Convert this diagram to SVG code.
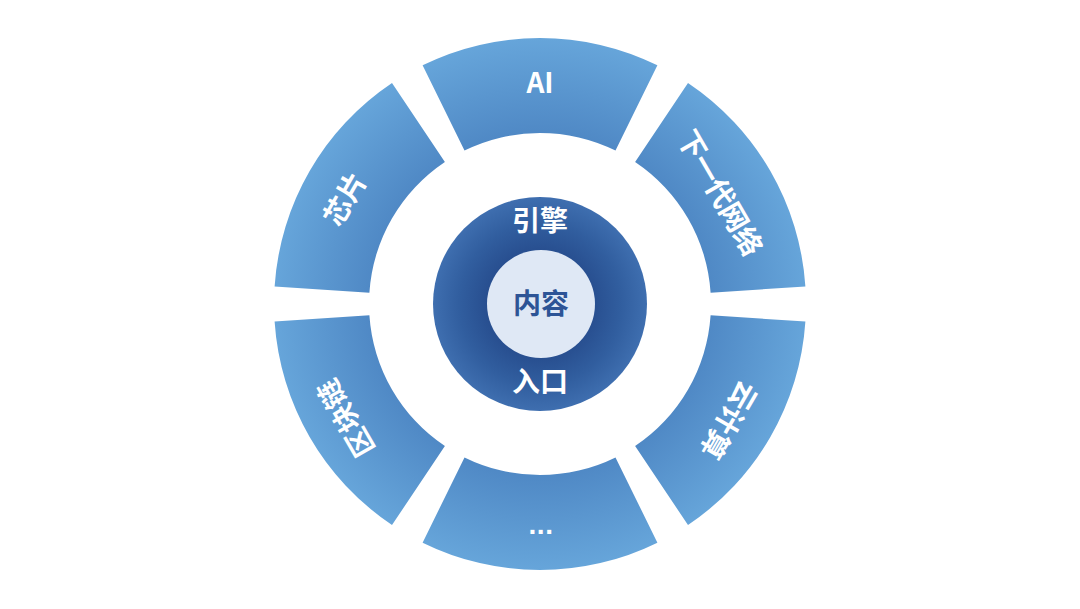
<svg xmlns="http://www.w3.org/2000/svg" width="1080" height="609" viewBox="0 0 1080 609">
<defs>
<radialGradient id="seg" gradientUnits="userSpaceOnUse" cx="540" cy="304" r="266">
<stop offset="0.62" stop-color="#4e87c4"/>
<stop offset="1" stop-color="#66a5da"/>
</radialGradient>
<radialGradient id="core" gradientUnits="userSpaceOnUse" cx="540" cy="304" r="108">
<stop offset="0.5" stop-color="#284f90"/>
<stop offset="0.75" stop-color="#315e9f"/>
<stop offset="1" stop-color="#3f6fb0"/>
</radialGradient>
<style>
.seg{fill:url(#seg)}
.t{font-family:"Noto Sans CJK SC","Liberation Sans",sans-serif;font-weight:bold;font-size:28px;fill:#ffffff;text-anchor:middle}
.dk{fill:#2d5496}
</style>
</defs>
<rect width="1080" height="609" fill="#ffffff"/>
<g id="node-ai">
<path class="seg" d="M422.6,65.3 A266,266 0 0 1 657.4,65.3 L615.5,150.6 A171,171 0 0 0 464.5,150.6 Z"/>
<text class="t" x="540" y="93" font-size="27">AI</text>
</g>
<g id="node-network">
<path class="seg" d="M688.0,83.0 A266,266 0 0 1 805.4,286.4 L710.6,292.7 A171,171 0 0 0 635.1,161.9 Z"/>
<text class="t" transform="translate(720,193) rotate(60)" x="0" y="10">下一代网络</text>
</g>
<g id="node-cloud">
<path class="seg" d="M805.4,321.6 A266,266 0 0 1 688.0,525.0 L635.1,446.1 A171,171 0 0 0 710.6,315.3 Z"/>
<text class="t" transform="translate(729,420) rotate(120)" x="0" y="10">云计算</text>
</g>
<g id="node-more">
<path class="seg" d="M657.4,542.7 A266,266 0 0 1 422.6,542.7 L464.5,457.4 A171,171 0 0 0 615.5,457.4 Z"/>
<text class="t" x="541" y="534" font-size="34" letter-spacing="0.5" style="font-family:'Liberation Sans',sans-serif">...</text>
</g>
<g id="node-blockchain">
<path class="seg" d="M392.0,525.0 A266,266 0 0 1 274.6,321.6 L369.4,315.3 A171,171 0 0 0 444.9,446.1 Z"/>
<text class="t" transform="translate(346,418) rotate(240)" x="0" y="10">区块链</text>
</g>
<g id="node-chip">
<path class="seg" d="M274.6,286.4 A266,266 0 0 1 392.0,83.0 L444.9,161.9 A171,171 0 0 0 369.4,292.7 Z"/>
<text class="t" transform="translate(345,199) rotate(-60)" x="0" y="10">芯片</text>
</g>
<g id="node-core">
<circle cx="540" cy="304" r="107" fill="url(#core)"/>
<text class="t" x="540" y="231">引擎</text>
<text class="t" x="540" y="392">入口</text>
</g>
<g id="node-content">
<circle cx="541" cy="304" r="54" fill="#dfe8f5"/>
<text class="t dk" x="541" y="314">内容</text>
</g>
<g id="connectors"></g>
</svg>
